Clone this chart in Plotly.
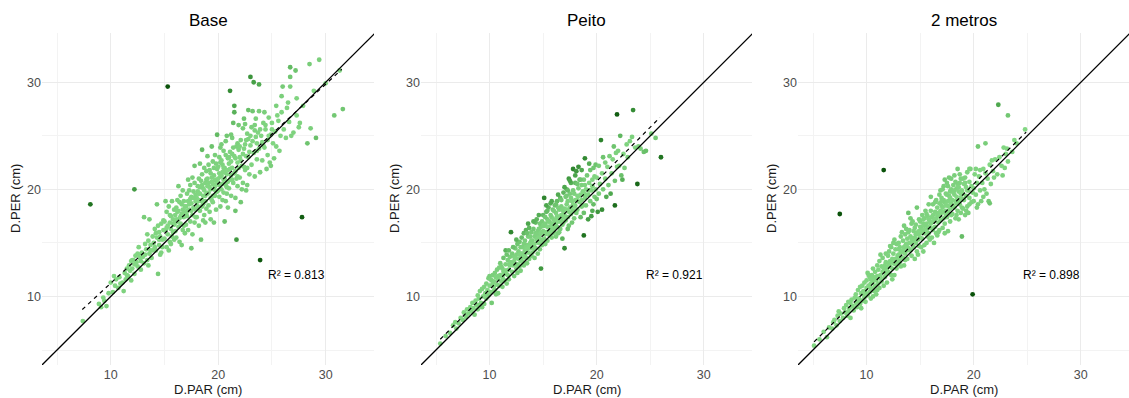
import plotly.graph_objects as go

# ---------------- data ----------------
panel_titles = ["Base", "Peito", "2 metros"]
r2_labels = ["R² = 0.813", "R² = 0.921", "R² = 0.898"]
r2_pos = [(27.3, 12.0), (27.3, 12.0), (27.3, 12.0)]
reg_intercept = [1.95, 0.55, 0.72]
reg_slope = [0.929, 1.01, 0.989]
reg_x_span = [(7.35, 31.5), (5.4, 25.9), (5.1, 24.9)]
axis_range = [3.6, 34.5]
tick_values = [10, 20, 30]
color_scale_max = [11.0, 4.6, 9.5]

base_points = [
    (7.4,7.7),(8.9,9.3),(9.1,9.0),(9.4,9.6),(9.6,9.1),(9.8,10.3),(9.3,9.9),
    (10.0,11.3),(10.2,10.4),(10.4,11.0),(10.5,11.6),(10.7,10.8),(10.8,11.8),(10.3,11.9),
    (11.1,11.3),(11.2,10.5),(11.3,12.2),(11.5,12.0),(11.6,11.9),(11.7,12.9),(11.8,12.4),(11.9,13.3),(11.4,11.6),(11.9,11.5),
    (12.0,12.6),(12.1,13.4),(12.2,12.1),(12.3,13.8),(12.4,13.2),(12.5,12.8),(12.6,14.6),(12.7,13.6),(12.8,12.5),(12.9,14.1),(12.5,14.0),(12.2,13.0),(12.8,13.3),
    (13.0,13.7),(13.1,17.4),(13.2,14.9),(13.3,14.4),(13.4,13.4),(13.5,15.2),(13.6,14.0),(13.7,14.8),(13.8,13.6),(13.9,15.6),(13.4,15.8),(13.6,17.2),(13.2,13.9),(13.9,14.3),(13.5,12.9),
    (14.0,15.0),(14.1,16.3),(14.2,14.3),(14.3,18.6),(14.3,15.5),(14.4,12.1),(14.5,16.0),(14.5,14.8),(14.6,15.6),(14.7,16.8),(14.7,14.1),(14.8,15.3),(14.9,17.1),(14.9,16.2),(14.2,15.9),(14.6,13.9),(14.8,14.6),(14.4,16.6),
    (15.0,15.4),(15.0,17.0),(15.1,16.2),(15.2,14.6),(15.2,17.9),(15.3,16.6),(15.3,15.8),(15.4,18.4),(15.5,16.9),(15.5,15.1),(15.6,17.5),(15.6,16.3),(15.7,18.9),(15.7,15.6),(15.8,17.2),(15.8,16.0),(15.9,18.1),(15.9,16.7),(15.1,18.9),(15.4,14.3),(15.6,14.9),(15.9,15.3),
    (16.0,17.6),(16.0,16.1),(16.1,18.3),(16.1,15.5),(16.2,17.0),(16.2,19.0),(16.3,16.5),(16.3,18.0),(16.4,17.3),(16.4,15.1),(16.5,19.4),(16.5,16.8),(16.6,18.6),(16.6,17.7),(16.7,16.2),(16.7,19.9),(16.8,17.4),(16.8,18.9),(16.9,15.9),(16.9,17.8),(16.3,20.3),(16.6,14.8),(16.4,18.8),(16.8,16.6),(16.1,17.2),
    (17.0,18.4),(17.0,16.7),(17.1,19.6),(17.1,17.5),(17.2,18.9),(17.2,16.2),(17.3,19.9),(17.3,18.1),(17.4,17.0),(17.4,20.4),(17.5,18.7),(17.5,19.3),(17.5,14.5),(17.6,17.6),(17.6,21.1),(17.7,18.3),(17.7,19.8),(17.8,16.9),(17.8,22.2),(17.8,20.6),(17.9,18.9),(17.9,17.4),(17.2,20.9),(17.6,15.8),(17.4,19.1),(17.9,19.5),(17.1,18.0),
    (18.0,19.2),(18.0,17.4),(18.1,20.3),(18.1,18.4),(18.2,21.0),(18.2,16.6),(18.3,19.6),(18.3,18.0),(18.4,20.8),(18.4,15.3),(18.5,19.0),(18.5,21.4),(18.5,23.7),(18.6,18.6),(18.6,20.1),(18.7,17.6),(18.7,22.0),(18.8,19.4),(18.8,20.6),(18.9,18.2),(18.9,21.7),(18.3,22.4),(18.6,17.1),(18.1,19.8),(18.7,19.9),(18.4,18.9),(18.9,20.9),(18.2,19.0),(18.8,16.9),(18.5,20.4),
    (19.0,19.6),(19.0,21.0),(19.1,18.5),(19.1,22.3),(19.2,20.2),(19.2,17.9),(19.3,21.5),(19.3,19.2),(19.4,24.0),(19.4,20.7),(19.5,18.8),(19.5,22.6),(19.6,20.0),(19.6,21.3),(19.7,19.4),(19.7,23.2),(19.8,20.8),(19.8,18.1),(19.9,21.9),(19.9,25.1),(19.9,19.8),(19.3,17.2),(19.0,23.1),(19.6,16.9),(19.2,21.8),(19.5,20.5),(19.8,22.4),(19.4,19.0),(19.7,20.3),(19.1,20.6),
    (20.0,20.6),(20.0,22.1),(20.1,19.3),(20.1,23.0),(20.2,21.2),(20.2,18.4),(20.3,20.0),(20.3,22.7),(20.4,21.6),(20.4,19.0),(20.5,23.6),(20.5,20.9),(20.6,17.0),(20.6,22.0),(20.7,20.4),(20.7,24.5),(20.8,21.4),(20.8,19.6),(20.9,22.9),(20.9,18.3),(20.3,24.2),(20.5,19.7),(20.8,25.0),(20.1,21.5),(20.4,22.3),(20.7,18.9),(20.2,23.9),(20.6,21.0),(20.9,20.7),(20.0,19.9),
    (21.0,22.4),(21.0,20.1),(21.1,29.2),(21.1,23.5),(21.2,21.3),(21.2,19.4),(21.3,24.8),(21.3,22.0),(21.4,20.6),(21.4,26.2),(21.5,27.8),(21.5,27.2),(21.5,23.1),(21.6,21.7),(21.6,18.0),(21.7,15.3),(21.7,24.0),(21.8,22.5),(21.8,20.3),(21.9,23.7),(21.9,26.0),(21.2,25.1),(21.6,19.2),(21.3,23.3),(21.8,21.2),(21.1,20.9),
    (22.0,23.0),(22.0,21.1),(22.1,24.6),(22.1,18.8),(22.2,22.2),(22.3,25.7),(22.3,20.6),(22.4,23.8),(22.4,26.6),(22.5,21.8),(22.5,24.2),(22.6,19.9),(22.6,23.1),(22.7,25.2),(22.7,22.0),(22.8,27.4),(22.8,24.7),(22.9,21.4),(22.9,23.5),(22.2,20.0),(22.5,26.1),(22.7,20.4),
    (23.0,30.5),(23.0,24.1),(23.1,22.3),(23.1,25.8),(23.2,27.3),(23.3,30.0),(23.3,23.4),(23.4,21.2),(23.5,24.9),(23.5,26.6),(23.6,22.8),(23.7,25.3),(23.8,29.8),(23.8,27.3),(23.8,23.8),(23.9,13.4),(23.9,21.6),(23.6,24.3),(23.4,26.0),
    (24.0,25.0),(24.1,22.7),(24.2,26.2),(24.3,23.9),(24.4,25.6),(24.5,21.9),(24.6,24.6),(24.7,26.7),(24.8,22.5),(24.9,25.1),(24.9,22.2),(24.3,27.2),(24.6,23.2),(24.2,24.1),
    (25.0,26.2),(25.1,24.3),(25.2,22.9),(25.3,25.4),(25.4,24.0),(25.5,26.9),(25.6,26.4),(25.7,23.6),(25.9,28.7),(25.9,27.2),(25.8,25.0),(25.4,27.8),
    (26.0,29.6),(26.1,25.6),(26.3,24.8),(26.4,27.6),(26.6,26.3),(26.7,30.5),(26.7,31.4),(26.7,29.6),(26.8,25.0),(26.5,28.1),
    (27.0,25.3),(27.2,31.1),(27.3,28.5),(27.3,26.9),(27.6,26.2),(27.8,17.4),(27.9,27.8),(27.5,25.8),
    (28.3,24.3),(28.5,31.7),(28.6,25.7),(29.1,24.8),(29.4,32.1),(30.0,29.9),(30.8,26.9),(31.3,31.1),(31.6,27.5),(28.9,29.2),
    (8.1,18.6),(15.3,29.6),(12.2,20.0),
    (15.2,16.4),(15.5,17.6),(15.8,16.8),(16.0,16.9),(16.2,17.9),(16.5,17.5),(16.7,18.1),(16.9,18.4),(17.1,17.9),(17.3,18.6),(17.5,18.0),(17.7,19.2),(17.9,18.1),(18.0,18.8),(18.2,19.6),(18.3,20.2),(18.5,18.4),(18.6,19.4),(18.8,18.9),(18.9,19.6),
    (19.0,20.3),(19.1,19.7),(19.3,20.0),(19.4,21.1),(19.5,19.4),(19.6,22.0),(19.7,20.9),(19.8,19.8),(19.9,20.5),(20.0,21.0),(20.1,20.4),(20.2,22.5),(20.3,21.3),(20.4,20.5),(20.5,22.0),(20.6,21.6),(20.7,23.2),(20.8,20.2),(20.9,21.8),
    (21.0,23.0),(21.1,21.9),(21.2,22.6),(21.3,20.9),(21.4,23.9),(21.5,21.5),(21.6,22.9),(21.7,21.0),(21.8,24.3),(21.9,22.0),(22.0,24.0),(22.1,22.7),(22.3,23.3),(22.4,22.1),(22.6,24.6),(22.8,23.0),
    (23.0,25.0),(23.2,24.5),(23.4,25.5),(23.6,23.6),(23.9,25.6),(24.1,24.4),(24.4,26.0),(24.7,25.0),(25.0,25.6),(14.1,14.6),(14.5,15.3),(13.7,14.3),(13.1,13.1),(12.6,13.9),(12.0,13.4),(11.5,12.6),(10.9,11.2),
]

peito_points = [
    (5.4,5.6),(5.9,6.3),(6.3,6.6),(6.6,7.3),(6.9,7.0),(6.8,7.6),
    (7.1,7.5),(7.3,8.0),(7.5,7.8),(7.6,8.5),(7.8,8.1),(7.9,8.8),
    (8.0,8.4),(8.2,9.0),(8.3,8.6),(8.4,9.4),(8.5,8.9),(8.6,8.3),(8.7,9.6),(8.8,9.2),(8.9,10.1),(8.9,8.8),
    (9.0,9.8),(9.1,10.5),(9.2,9.4),(9.3,10.7),(9.4,10.0),(9.5,9.3),(9.5,10.9),(9.6,10.3),(9.7,11.2),(9.7,9.8),(9.8,10.6),(9.9,11.7),(9.9,10.1),(9.3,9.0),
    (10.0,11.0),(10.0,11.9),(10.1,10.4),(10.2,11.5),(10.2,9.4),(10.3,12.0),(10.4,10.9),(10.4,11.4),(10.5,12.2),(10.5,10.6),(10.6,11.8),(10.7,11.1),(10.7,12.5),(10.8,10.3),(10.8,11.6),(10.9,12.7),(10.9,11.0),(10.1,11.6),(10.6,10.2),(10.3,11.2),
    (11.0,12.0),(11.0,13.1),(11.1,11.4),(11.2,12.6),(11.2,10.9),(11.3,13.6),(11.4,12.1),(11.4,11.5),(11.5,13.0),(11.5,14.3),(11.6,12.4),(11.6,11.2),(11.7,13.4),(11.7,12.0),(11.8,14.3),(11.8,11.6),(11.9,12.9),(11.9,13.7),(11.3,12.3),(11.6,13.9),(11.1,12.8),(11.8,12.5),
    (12.0,16.0),(12.0,13.2),(12.1,12.3),(12.1,14.0),(12.2,12.9),(12.3,13.7),(12.3,11.9),(12.4,14.5),(12.4,13.0),(12.5,12.6),(12.5,13.9),(12.6,14.9),(12.6,12.2),(12.7,13.5),(12.7,14.2),(12.8,12.8),(12.8,15.1),(12.9,13.3),(12.9,14.6),(12.2,14.6),(12.5,15.3),(12.8,13.9),(12.3,13.3),(12.6,13.0),(12.9,12.4),
    (13.0,14.0),(13.0,15.5),(13.1,13.2),(13.1,14.6),(13.2,15.9),(13.2,12.9),(13.3,14.3),(13.3,15.2),(13.4,13.6),(13.4,16.2),(13.5,14.8),(13.5,13.1),(13.6,15.6),(13.6,14.1),(13.7,16.4),(13.7,13.5),(13.8,15.0),(13.8,14.5),(13.9,16.0),(13.9,13.8),(13.2,14.9),(13.5,15.9),(13.8,15.6),(13.0,13.6),(13.4,14.6),(13.6,16.8),(13.9,14.9),
    (14.0,15.2),(14.0,14.1),(14.1,16.3),(14.1,14.8),(14.2,15.6),(14.2,13.6),(14.3,16.9),(14.3,14.5),(14.4,15.3),(14.4,17.2),(14.5,14.0),(14.5,16.1),(14.6,15.0),(14.6,17.6),(14.7,15.8),(14.7,14.4),(14.8,12.6),(14.8,16.5),(14.8,15.3),(14.9,17.0),(14.9,14.8),(14.1,17.0),(14.3,15.9),(14.5,15.4),(14.7,16.8),(14.9,16.0),(14.2,14.9),(14.6,16.3),
    (15.0,16.1),(15.0,17.6),(15.1,19.2),(15.1,15.4),(15.2,16.8),(15.2,14.9),(15.3,17.9),(15.3,16.0),(15.4,15.2),(15.4,17.2),(15.5,16.5),(15.5,18.3),(15.6,15.7),(15.6,17.0),(15.7,16.2),(15.7,18.7),(15.8,17.4),(15.8,15.5),(15.9,16.8),(15.9,18.1),(15.0,15.0),(15.2,17.4),(15.4,16.5),(15.6,16.5),(15.8,16.7),(15.3,18.5),(15.7,17.6),(15.9,15.9),(15.5,17.0),(15.1,16.6),
    (16.0,17.2),(16.0,16.0),(16.1,18.5),(16.1,17.0),(16.2,15.6),(16.2,17.8),(16.3,16.5),(16.3,18.9),(16.4,17.3),(16.4,15.9),(16.5,18.1),(16.5,17.0),(16.6,16.3),(16.6,19.2),(16.7,17.6),(16.7,18.4),(16.8,16.7),(16.8,15.4),(16.9,17.9),(16.9,19.7),(16.2,16.8),(16.4,18.3),(16.6,17.4),(16.8,18.1),(16.0,18.0),(16.5,16.0),(16.9,16.9),(16.3,17.5),
    (17.0,18.2),(17.0,14.5),(17.1,17.1),(17.1,19.3),(17.2,18.6),(17.2,20.0),(17.3,17.4),(17.3,18.9),(17.4,16.6),(17.4,21.0),(17.5,18.3),(17.5,19.6),(17.6,17.7),(17.6,20.6),(17.7,18.9),(17.7,16.9),(17.8,19.9),(17.8,21.9),(17.9,18.4),(17.9,17.3),(17.2,19.4),(17.5,20.8),(17.8,18.0),(17.3,16.3),(17.6,19.2),(17.9,19.6),
    (18.0,19.0),(18.0,20.6),(18.1,17.8),(18.1,21.7),(18.2,19.4),(18.2,18.1),(18.3,22.1),(18.3,20.1),(18.4,18.8),(18.4,20.9),(18.5,17.4),(18.5,19.5),(18.6,20.4),(18.6,21.8),(18.7,18.5),(18.7,19.8),(18.8,15.7),(18.8,20.9),(18.9,22.9),(18.9,19.2),(18.2,20.5),(18.5,20.9),(18.8,17.8),(18.6,19.0),(18.9,20.4),
    (19.0,20.0),(19.0,18.5),(19.1,21.3),(19.2,19.5),(19.2,17.2),(19.3,20.6),(19.4,18.9),(19.4,21.8),(19.5,19.9),(19.6,18.0),(19.6,20.9),(19.7,22.0),(19.8,19.3),(19.8,21.2),(19.9,22.3),(19.9,20.0),(19.5,17.5),(19.3,22.4),(19.7,18.6),
    (20.0,21.1),(20.0,19.1),(20.2,22.2),(20.2,19.6),(20.3,20.5),(20.4,24.6),(20.5,18.1),(20.5,21.5),(20.6,20.0),(20.8,22.5),(20.9,19.3),(20.8,21.0),(20.1,17.9),(20.6,23.0),
    (21.0,22.1),(21.1,20.4),(21.2,23.1),(21.4,21.5),(21.5,22.8),(21.6,24.0),(21.7,18.5),(21.7,20.8),(21.8,23.4),(21.9,27.0),(21.9,22.1),(21.3,19.6),
    (22.0,23.6),(22.1,22.2),(22.2,25.0),(22.3,21.3),(22.5,23.3),(22.6,22.0),(22.8,24.2),(22.9,23.0),(22.4,20.9),
    (23.1,24.5),(23.3,24.9),(23.4,27.4),(23.6,23.9),(23.8,20.5),(23.9,24.0),(24.1,23.8),(24.4,23.5),(24.6,23.6),(25.1,25.2),(26.0,23.0),(25.5,24.8),
    (11.2,11.8),(11.5,12.4),(11.8,13.0),(12.1,13.0),(12.4,13.6),(12.7,12.9),(13.0,13.3),(13.1,14.0),(13.3,13.8),(13.5,14.4),(13.7,14.6),(13.9,15.2),(14.0,14.6),(14.2,14.4),(14.4,15.8),(14.6,15.5),(14.8,15.9),
    (15.0,16.6),(15.2,15.8),(15.4,16.0),(15.6,16.1),(15.8,16.3),(16.0,16.6),(16.1,16.4),(16.3,17.0),(16.5,17.4),(16.7,17.1),(16.9,17.4),(17.0,17.6),(17.2,18.1),(17.4,17.9),(17.6,18.3),(17.8,18.6),
    (18.0,18.5),(18.2,19.0),(18.4,19.4),(18.6,18.4),(18.8,19.6),(19.0,19.5),(19.3,19.9),(19.6,20.3),(10.4,10.5),(10.8,11.9),(9.6,10.0),(9.0,9.2),
    (16.2,18.6),(16.7,19.0),(17.3,19.9),(18.0,21.3),(17.0,20.2),(16.4,19.5),(15.8,18.9),(15.4,18.0),
]

metros_points = [
    (5.1,5.4),(5.6,6.0),(6.0,6.7),(6.3,6.2),(6.5,7.1),(6.8,7.0),(6.9,7.6),
    (7.0,7.8),(7.2,7.3),(7.3,8.2),(7.5,7.7),(7.6,8.4),(7.8,8.0),(7.9,8.9),(7.4,8.6),
    (8.0,8.5),(8.1,9.2),(8.2,8.2),(8.3,9.5),(8.4,8.9),(8.5,8.0),(8.6,9.7),(8.7,9.1),(8.8,8.7),(8.9,9.9),(8.5,9.4),(8.3,8.6),
    (9.0,9.4),(9.0,10.2),(9.1,9.0),(9.2,10.6),(9.3,9.8),(9.4,10.9),(9.4,9.3),(9.5,10.3),(9.6,11.0),(9.6,9.6),(9.7,10.5),(9.8,9.9),(9.8,11.3),(9.9,10.4),(9.9,9.5),(9.2,9.6),(9.5,8.9),
    (10.0,10.8),(10.0,11.5),(10.1,10.1),(10.1,12.2),(10.2,11.0),(10.3,10.4),(10.3,11.8),(10.4,11.2),(10.4,9.8),(10.5,12.0),(10.5,10.7),(10.6,11.4),(10.6,12.6),(10.7,10.5),(10.7,11.7),(10.8,11.0),(10.8,12.3),(10.9,10.2),(10.9,11.5),(10.2,12.0),(10.6,10.0),(10.4,11.6),
    (11.0,11.9),(11.0,12.9),(11.1,11.2),(11.1,12.5),(11.2,13.3),(11.2,10.8),(11.3,12.0),(11.4,12.8),(11.4,11.4),(11.5,13.6),(11.5,12.3),(11.6,21.8),(11.6,11.0),(11.7,12.9),(11.7,11.8),(11.8,13.2),(11.8,12.1),(11.9,12.6),(11.9,11.3),(11.3,13.9),(11.6,12.6),(11.0,10.6),(11.8,14.0),
    (12.0,12.8),(12.0,13.8),(12.1,12.2),(12.1,14.2),(12.2,13.3),(12.3,12.0),(12.3,14.6),(12.4,13.5),(12.4,12.6),(12.5,14.0),(12.5,15.0),(12.6,13.1),(12.6,12.0),(12.7,14.4),(12.7,13.5),(12.8,12.6),(12.8,14.9),(12.9,13.8),(12.9,13.0),(12.2,14.7),(12.6,15.3),(12.4,11.6),(12.8,13.4),(12.1,13.1),
    (13.0,13.9),(13.0,15.0),(13.1,13.2),(13.1,14.6),(13.2,15.6),(13.2,12.8),(13.3,14.2),(13.3,16.0),(13.4,13.6),(13.4,15.2),(13.5,14.6),(13.5,12.9),(13.6,15.8),(13.6,14.0),(13.7,16.3),(13.7,14.9),(13.8,13.5),(13.8,15.4),(13.9,17.8),(13.9,14.5),(13.2,14.1),(13.5,16.6),(13.8,14.3),(13.0,14.4),(13.6,13.4),(13.9,16.0),
    (14.0,15.0),(14.0,16.2),(14.1,14.3),(14.1,15.6),(14.2,16.8),(14.2,13.8),(14.3,15.2),(14.3,17.0),(14.4,14.6),(14.4,16.1),(14.5,15.5),(14.5,13.5),(14.6,16.7),(14.6,15.0),(14.7,18.3),(14.7,14.2),(14.8,16.0),(14.8,15.3),(14.9,17.2),(14.9,14.7),(14.2,15.4),(14.5,16.4),(14.8,13.9),(14.1,17.3),(14.6,15.8),(14.9,16.1),
    (15.0,15.9),(15.0,17.0),(15.1,14.6),(15.1,16.4),(15.2,17.6),(15.2,15.4),(15.3,16.8),(15.3,14.2),(15.4,15.9),(15.4,17.3),(15.5,16.2),(15.5,18.0),(15.6,15.0),(15.6,16.8),(15.7,17.5),(15.7,15.6),(15.8,16.4),(15.8,18.6),(15.9,15.3),(15.9,17.0),(15.2,16.2),(15.4,14.8),(15.6,17.7),(15.8,15.9),(15.0,16.5),(15.3,17.2),(15.7,16.5),
    (16.0,16.8),(16.0,18.0),(16.1,15.5),(16.1,17.4),(16.2,16.2),(16.2,18.6),(16.3,17.0),(16.3,15.0),(16.4,17.9),(16.4,16.5),(16.5,19.0),(16.5,17.3),(16.6,15.7),(16.6,18.3),(16.7,16.9),(16.7,17.8),(16.8,19.5),(16.8,16.2),(16.9,18.0),(16.9,17.1),(16.2,17.6),(16.5,15.9),(16.8,18.7),(16.0,19.3),(16.4,18.8),(16.7,16.0),(16.9,19.9),
    (17.0,17.8),(17.0,19.2),(17.1,18.3),(17.1,16.4),(17.2,20.3),(17.2,17.3),(17.3,18.8),(17.3,16.8),(17.4,19.6),(17.4,18.0),(17.5,20.6),(17.5,17.4),(17.6,18.9),(17.6,16.1),(17.7,19.4),(17.7,21.1),(17.8,18.2),(17.8,17.0),(17.9,20.0),(17.9,18.7),(17.2,19.0),(17.5,18.5),(17.8,19.8),(17.3,15.9),(17.6,20.3),(17.9,17.6),(17.1,20.0),(17.4,17.6),(17.7,18.4),
    (18.0,19.0),(18.0,17.7),(18.1,20.4),(18.1,18.4),(18.2,19.5),(18.2,21.3),(18.3,17.3),(18.3,18.9),(18.4,20.1),(18.4,19.3),(18.5,21.9),(18.5,18.0),(18.6,19.8),(18.6,17.2),(18.7,20.6),(18.7,18.6),(18.8,19.2),(18.8,21.0),(18.9,15.6),(18.9,18.3),(18.2,18.3),(18.5,20.5),(18.8,17.8),(18.1,19.7),(18.6,18.9),(18.4,17.6),(18.9,19.9),
    (19.0,19.6),(19.0,18.2),(19.1,20.5),(19.1,19.0),(19.2,17.6),(19.2,21.1),(19.3,19.4),(19.3,20.2),(19.4,18.4),(19.4,21.6),(19.5,19.9),(19.5,17.8),(19.6,20.7),(19.6,19.2),(19.7,21.9),(19.8,18.8),(19.8,20.3),(19.9,10.2),(19.9,19.7),(19.3,18.0),(19.6,21.9),(19.0,21.0),
    (20.0,20.1),(20.0,18.9),(20.1,21.4),(20.2,19.5),(20.2,21.9),(20.3,20.6),(20.4,24.0),(20.4,18.6),(20.5,21.2),(20.6,19.9),(20.6,21.8),(20.7,18.9),(20.8,20.6),(20.9,21.9),(20.9,19.3),(20.3,18.3),
    (21.0,20.0),(21.1,24.3),(21.1,21.5),(21.2,19.6),(21.3,21.0),(21.4,18.9),(21.5,22.3),(21.6,20.5),(21.7,22.7),(21.8,21.7),(21.9,21.1),(21.5,18.7),
    (22.0,22.8),(22.2,21.4),(22.3,27.9),(22.4,23.0),(22.6,22.2),(22.8,23.9),(22.9,22.0),(22.7,21.3),
    (23.0,23.3),(23.1,23.8),(23.2,26.9),(23.2,22.6),(23.6,23.5),(24.0,24.3),(24.8,25.6),(23.8,24.6),
    (7.5,17.7),
    (11.3,11.7),(11.7,12.3),(12.0,12.3),(12.2,12.8),(12.5,13.1),(12.7,13.0),(13.0,13.4),(13.2,13.6),(13.4,14.3),(13.6,14.7),(13.8,14.9),(14.0,14.4),(14.2,15.0),(14.4,15.4),(14.6,15.2),(14.8,15.8),
    (15.0,15.5),(15.2,16.0),(15.4,16.6),(15.6,16.2),(15.8,17.2),(16.0,16.4),(16.2,17.0),(16.4,17.2),(16.6,17.6),(16.8,17.5),(17.0,18.5),(17.2,17.9),(17.4,18.5),(17.6,17.9),(17.8,19.2),
    (18.0,18.5),(18.2,19.9),(18.4,18.7),(18.6,20.2),(18.8,19.6),(19.0,19.1),(19.2,20.6),(19.4,19.9),(19.6,18.6),(10.4,10.8),(10.8,11.8),(9.7,10.2),(9.1,9.8),
    (17.5,19.5),(18.3,20.7),(17.0,18.9),(18.7,21.4),(17.9,21.0),(17.3,20.9),
]

all_points = [base_points, peito_points, metros_points]

# ---------------- style ----------------
font_family = "Liberation Sans, Arial, sans-serif"
green_scale = [
    [0.0, "#84D884"], [0.3, "#79CD79"], [0.55, "#4CA64C"],
    [0.8, "#257A25"], [1.0, "#0A520A"],
]
x_domains = [[42 / 1129, 374 / 1129], [421 / 1129, 752 / 1129], [798 / 1129, 1.0]]
y_domain = [1 - 365 / 398, 1 - 33 / 398]
y_range = [3.6, 34.6]

fig = go.Figure()
layout = dict(
    width=1129, height=398,
    margin=dict(l=0, r=0, t=0, b=0),
    paper_bgcolor="white", plot_bgcolor="white",
    showlegend=False,
    font=dict(family=font_family),
    annotations=[],
)

for i, pts in enumerate(all_points):
    sfx = "" if i == 0 else str(i + 1)
    xref, yref = "x" + sfx, "y" + sfx
    xs = [p[0] for p in pts]
    ys = [p[1] for p in pts]
    a, b = reg_intercept[i], reg_slope[i]
    resid = [abs(y - (a + b * x)) for x, y in zip(xs, ys)]

    fig.add_trace(go.Scatter(
        x=xs, y=ys, mode="markers", xaxis=xref, yaxis=yref,
        marker=dict(size=4.8, color=resid, cmin=0, cmax=color_scale_max[i],
                    colorscale=green_scale, line=dict(width=0)),
        hoverinfo="skip",
    ))
    # 1:1 line across the whole axis range (clipped by the plot area)
    fig.add_trace(go.Scatter(
        x=[axis_range[0] - 1, y_range[1] + 1], y=[axis_range[0] - 1, y_range[1] + 1],
        mode="lines", xaxis=xref, yaxis=yref,
        line=dict(color="black", width=1.3), hoverinfo="skip",
    ))
    # fitted regression line (dashed)
    x0, x1 = reg_x_span[i]
    fig.add_trace(go.Scatter(
        x=[x0, x1], y=[a + b * x0, a + b * x1], mode="lines",
        xaxis=xref, yaxis=yref,
        line=dict(color="black", width=1.2, dash="4px,4px"), hoverinfo="skip",
    ))

    axis_common = dict(
        showline=False, zeroline=False, ticks="",
        showgrid=True, gridcolor="#EBEBEB", gridwidth=1,
        tickvals=tick_values,
        tickfont=dict(size=12.5, color="#4D4D4D", family=font_family),
        minor=dict(dtick=5, tick0=0, showgrid=True, gridcolor="#F3F3F3", gridwidth=1),
        fixedrange=True,
    )
    layout["xaxis" + sfx] = dict(axis_common, domain=x_domains[i], range=axis_range,
                                 anchor=yref)
    layout["yaxis" + sfx] = dict(axis_common, domain=y_domain, range=y_range,
                                 anchor=xref)

    xc = (x_domains[i][0] + x_domains[i][1]) / 2
    layout["annotations"] += [
        dict(text=panel_titles[i], xref="paper", yref="paper", x=xc, y=1 - 21 / 398,
             xanchor="center", yanchor="middle", showarrow=False,
             font=dict(size=17, color="black", family=font_family)),
        dict(text="D.PAR (cm)", xref="paper", yref="paper", x=xc, y=1 - 389 / 398,
             xanchor="center", yanchor="middle", showarrow=False,
             font=dict(size=13, color="#1A1A1A", family=font_family)),
        dict(text="D.PER (cm)", xref="paper", yref="paper",
             x=(x_domains[i][0] * 1129 - 27) / 1129, y=1 - 199 / 398,
             xanchor="center", yanchor="middle", textangle=-90, showarrow=False,
             font=dict(size=13, color="#1A1A1A", family=font_family)),
        dict(text=r2_labels[i], xref=xref, yref=yref, x=r2_pos[i][0], y=r2_pos[i][1],
             xanchor="center", yanchor="middle", showarrow=False,
             font=dict(size=12, color="black", family=font_family)),
    ]

fig.update_layout(**layout)
fig.write_html("out.html")
